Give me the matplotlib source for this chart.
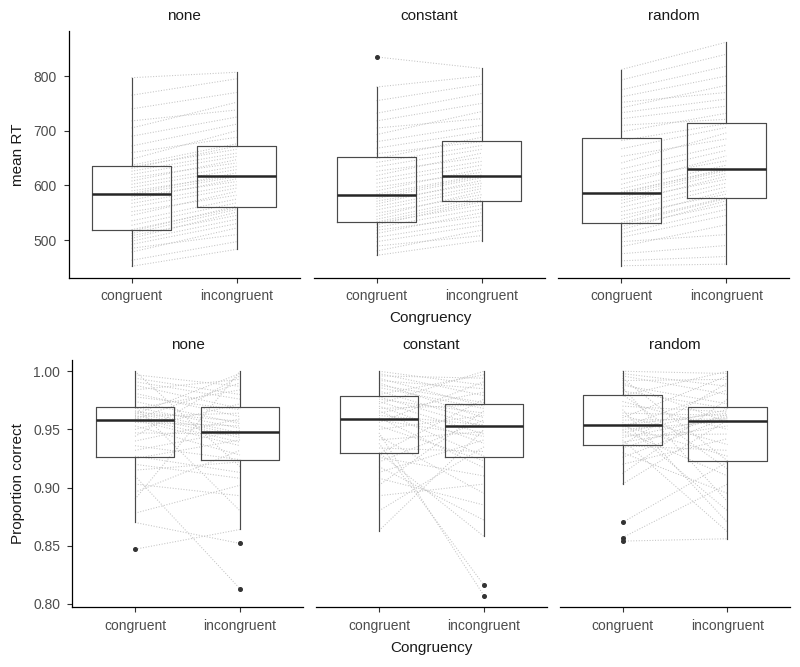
import matplotlib.pyplot as plt
import numpy as np

plt.rcParams["font.family"] = ["Liberation Sans", "DejaVu Sans"]

conditions = ["none", "constant", "random"]
congruency = ["congruent", "incongruent"]

# mean RT per participant (congruent / incongruent), one pair per participant
rt_none_con = [452, 463, 478, 485, 492, 498, 503, 508, 512, 516, 519, 527, 535, 545, 552, 560, 567, 573, 579, 583,
               585, 590, 596, 602, 608, 614, 620, 626, 631, 634, 637, 648, 660, 672, 690, 705, 718, 740, 765, 797]
rt_none_inc = [483, 497, 522, 510, 530, 538, 551, 545, 556, 562, 559, 568, 575, 589, 582, 595, 601, 612, 607, 616,
               623, 618, 629, 635, 647, 641, 653, 659, 672, 666, 676, 700, 688, 712, 725, 752, 738, 770, 795, 807]
rt_const_con = [472, 480, 489, 497, 505, 512, 518, 523, 528, 531, 533, 538, 543, 549, 555, 561, 566, 571, 576, 580,
                584, 590, 597, 604, 611, 618, 626, 634, 642, 649, 658, 668, 680, 693, 705, 718, 732, 755, 780, 835]
rt_const_inc = [499, 518, 508, 527, 535, 550, 543, 557, 570, 564, 573, 578, 589, 583, 594, 599, 609, 604, 614, 617,
                619, 630, 624, 637, 644, 659, 651, 666, 673, 688, 680, 698, 710, 735, 722, 750, 768, 785, 800, 814]
rt_rand_con = [453, 462, 475, 488, 497, 505, 512, 519, 525, 529, 532, 538, 545, 552, 560, 567, 573, 578, 583, 586,
               588, 594, 602, 611, 620, 630, 641, 653, 667, 682, 698, 710, 722, 733, 742, 752, 762, 775, 793, 812]
rt_rand_inc = [456, 470, 490, 528, 510, 545, 556, 572, 565, 576, 578, 590, 584, 597, 604, 617, 611, 622, 627, 631,
               629, 637, 654, 645, 664, 674, 696, 685, 706, 713, 732, 721, 745, 758, 783, 770, 800, 818, 840, 862]

# proportion correct per participant
acc_none_con = [.847, .870, .878, .890, .896, .903, .910, .915, .920, .925, .927, .932, .936, .940, .944, .947, .950,
                .953, .956, .958, .959, .960, .961, .962, .963, .964, .965, .966, .968, .969, .970, .974, .978, .981,
                .984, .988, .991, .994, .997, 1.000]
acc_none_inc = [.864, .852, .902, 1.000, .932, .893, .813, .922, .908, .941, .913, .949, .924, .959, .996, .946, .972,
                .928, .953, .936, .990, .939, .964, .943, .998, .945, .957, .947, .984, .951, .880, .955, .967, .961,
                .993, .968, .976, .980, .987, .918]
acc_const_con = [.863, .880, .893, .902, .908, .913, .918, .922, .926, .929, .930, .934, .938, .941, .944, .947, .950,
                 .953, .956, .958, .960, .962, .964, .966, .968, .970, .972, .974, .976, .978, .980, .983, .986, .988,
                 .990, .992, .994, .996, .998, 1.000]
acc_const_inc = [.950, .935, .903, .966, .885, .941, .872, .958, .910, .976, .858, .931, .816, .948, .895, .807, .962,
                 .923, .991, .944, .917, .954, .982, .927, .971, .938, 1.000, .946, .964, .952, .997, .956, .968, .973,
                 .960, .985, .970, .994, .979, .988]
acc_rand_con = [.854, .857, .870, .903, .912, .920, .926, .930, .934, .936, .937, .939, .941, .943, .945, .947, .949,
                .950, .952, .953, .954, .956, .958, .960, .962, .964, .967, .970, .974, .979, .980, .983, .986, .988,
                .990, .992, .994, .996, .998, 1.000]
acc_rand_inc = [.856, .903, .922, .958, .976, .942, .960, .895, .963, .932, .990, .953, .862, .961, .946, .967, .910,
                .957, .984, .927, .964, .880, .959, .996, .937, .962, .870, .965, .950, 1.000, .916, .968, .888, .972,
                .956, .993, .923, .980, .987, .998]

rt_data = [(rt_none_con, rt_none_inc), (rt_const_con, rt_const_inc), (rt_rand_con, rt_rand_inc)]
acc_data = [(acc_none_con, acc_none_inc), (acc_const_con, acc_const_inc), (acc_rand_con, acc_rand_inc)]


def expand(data):
    vals = np.concatenate([np.r_[c, i] for c, i in data])
    lo, hi = vals.min(), vals.max()
    pad = (hi - lo) * 0.05
    return lo - pad, hi + pad


def draw_panel(ax, con, inc, title, ylim, first):
    for c, i in zip(con, inc):
        ax.plot([1, 2], [c, i], color="#c4c4c4", lw=0.75, ls=(0, (1, 1.6)), zorder=1)
    ax.boxplot([con, inc], positions=[1, 2], widths=0.75, whis=1.5, showcaps=False,
               boxprops=dict(color="#4a4a4a", lw=0.85),
               whiskerprops=dict(color="#4a4a4a", lw=0.85),
               medianprops=dict(color="#262626", lw=1.8),
               flierprops=dict(marker="o", markersize=2.6, markerfacecolor="#333333",
                               markeredgecolor="#333333"),
               zorder=2)
    ax.set_xlim(0.4, 2.6)
    ax.set_ylim(*ylim)
    ax.set_xticks([1, 2])
    ax.set_xticklabels(congruency, fontsize=10, color="#4d4d4d")
    ax.set_title(title, fontsize=11, color="#1a1a1a", pad=8)
    for s in ["top", "right"]:
        ax.spines[s].set_visible(False)
    ax.spines["bottom"].set_linewidth(0.9)
    ax.spines["left"].set_linewidth(0.9)
    ax.tick_params(length=3.5, width=0.8, color="#333333", pad=5, labelsize=10, labelcolor="#4d4d4d")
    if not first:
        ax.spines["left"].set_visible(False)
        ax.set_yticks([])


fig = plt.figure(figsize=(8, 6.67), dpi=100)
W, H = 800, 667
pw = 231

rt_lim = expand(rt_data)
top_left = [68.5, 313.5, 558.3]
for k in range(3):
    ax = fig.add_axes([top_left[k] / W, 1 - 277.5 / H, pw / W, (277.5 - 31) / H])
    draw_panel(ax, rt_data[k][0], rt_data[k][1], conditions[k], rt_lim, k == 0)
    if k == 0:
        ax.set_yticks([500, 600, 700, 800])
        ax.set_ylabel("mean RT", fontsize=11, color="#1a1a1a", labelpad=6)

acc_lim = expand(acc_data)
bot_left = [72, 316, 559.5]
for k in range(3):
    ax = fig.add_axes([bot_left[k] / W, 1 - 607 / H, pw / W, (607 - 360) / H])
    draw_panel(ax, acc_data[k][0], acc_data[k][1], conditions[k], acc_lim, k == 0)
    if k == 0:
        ax.set_yticks([0.80, 0.85, 0.90, 0.95, 1.00])
        ax.set_yticklabels(["0.80", "0.85", "0.90", "0.95", "1.00"])
        ax.set_ylabel("Proportion correct", fontsize=11, color="#1a1a1a", labelpad=6)

fig.text(430 / W, 1 - 318 / H, "Congruency", ha="center", va="center", fontsize=11, color="#1a1a1a")
fig.text(431 / W, 1 - 648 / H, "Congruency", ha="center", va="center", fontsize=11, color="#1a1a1a")

fig.savefig("out.png", dpi=100)
